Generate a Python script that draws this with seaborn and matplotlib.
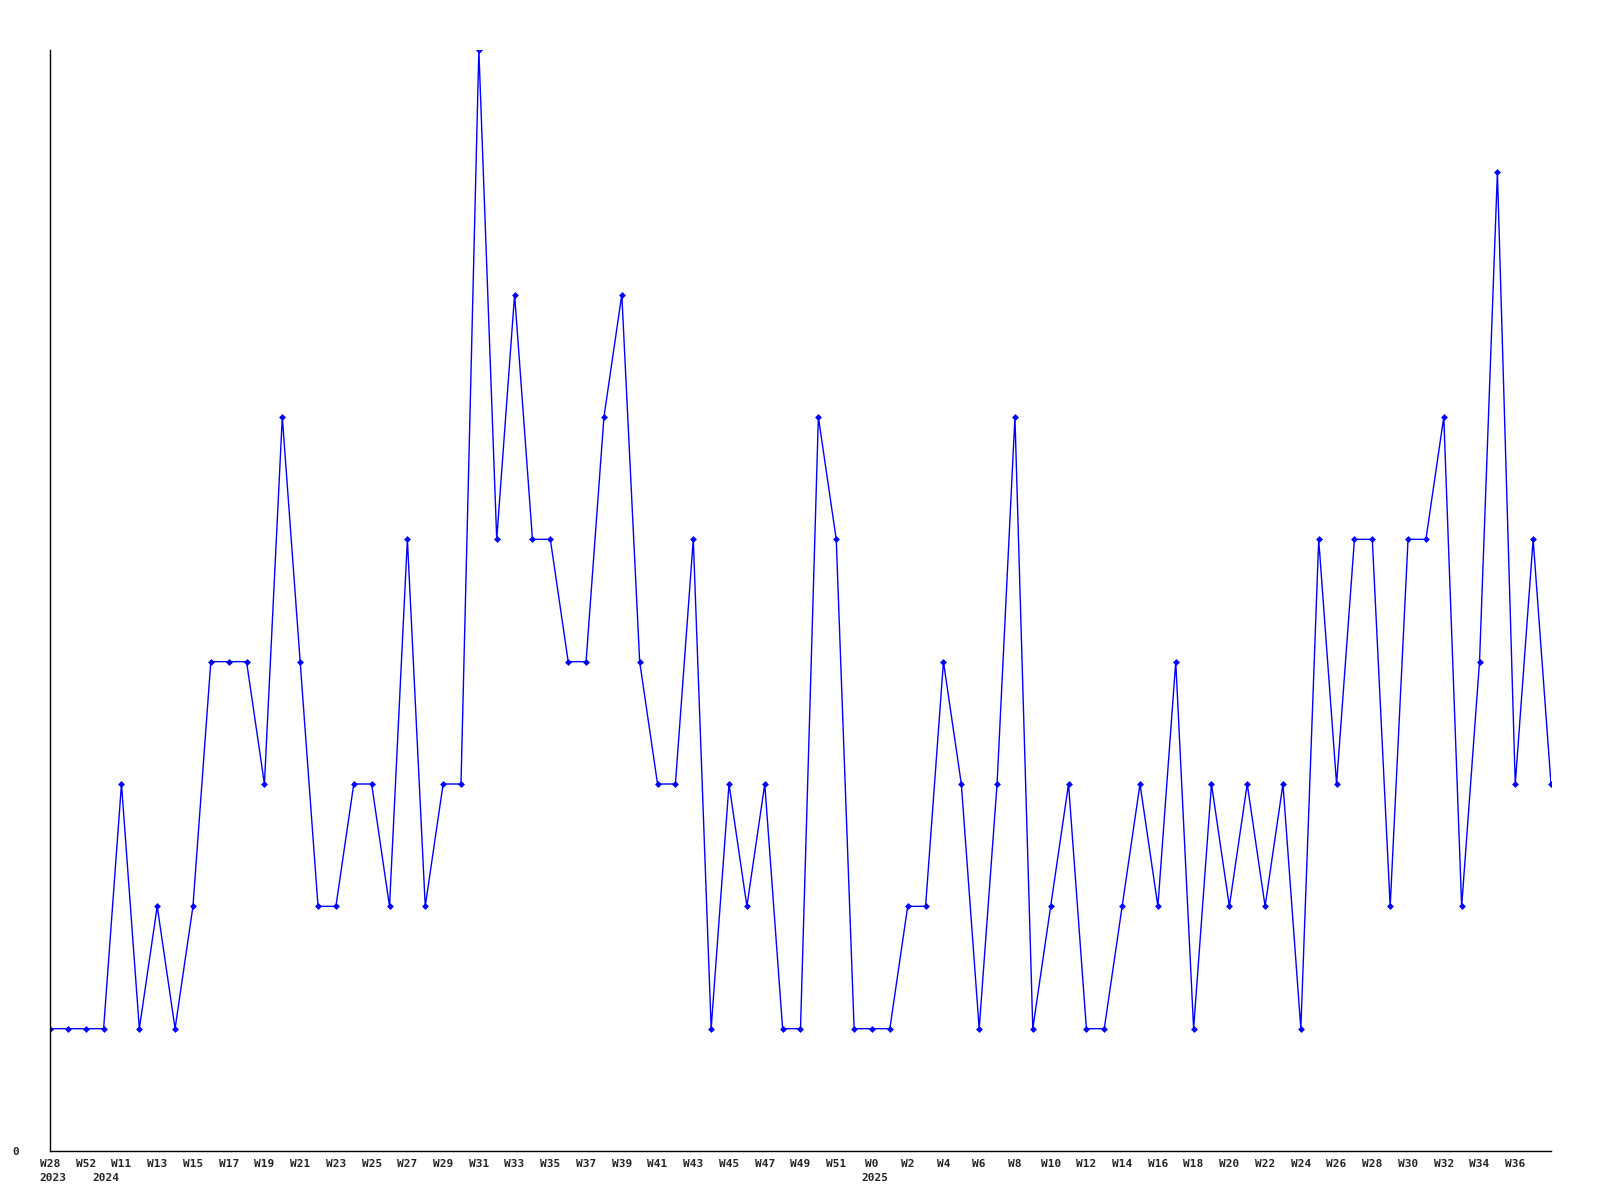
import numpy as np
import matplotlib
matplotlib.use("Agg")
import matplotlib.pyplot as plt
import seaborn as sns

# weekly counts, one value per week (W28 2023 .. W38 2025)
counts = [
    1, 1, 1, 1, 3, 1, 2, 1, 2, 4,
    4, 4, 3, 6, 4, 2, 2, 3, 3, 2,
    5, 2, 3, 3, 9, 5, 7, 5, 5, 4,
    4, 6, 7, 4, 3, 3, 5, 1, 3, 2,
    3, 1, 1, 6, 5, 1, 1, 1, 2, 2,
    4, 3, 1, 3, 6, 1, 2, 3, 1, 1,
    2, 3, 2, 4, 1, 3, 2, 3, 2, 3,
    1, 5, 3, 5, 5, 2, 5, 5, 6, 2,
    4, 8, 3, 5, 3,
]

# labels shown on every second week
week_labels = [
    "W28", "W52", "W11", "W13", "W15", "W17", "W19", "W21", "W23", "W25",
    "W27", "W29", "W31", "W33", "W35", "W37", "W39", "W41", "W43", "W45",
    "W47", "W49", "W51", "W0", "W2", "W4", "W6", "W8", "W10", "W12",
    "W14", "W16", "W18", "W20", "W22", "W24", "W26", "W28", "W30", "W32",
    "W34", "W36",
]
# year markers: week index where each year starts
years = ["2023", "2024", "2025"]
year_weeks = [0, 3, 46]


def main():
    sns.set_style("white")
    plt.rcParams["font.family"] = ["DejaVu Sans Mono"]

    fig = plt.figure(figsize=(16, 12), dpi=100)
    ax = fig.add_axes([50 / 1600, 1 - 1151 / 1200, 1501 / 1600, 1101 / 1200])

    x = np.arange(len(counts))
    sns.lineplot(x=x, y=counts, ax=ax, color="#0000ff", linewidth=1,
                 marker="D", markersize=3.5, markeredgewidth=0)

    ax.set_xlim(0, len(counts) - 1)
    ax.set_ylim(0, max(counts))

    ticks = x[::2][:len(week_labels)]
    ax.set_xticks(ticks)
    ax.set_xticklabels(week_labels, fontsize=8, fontweight="bold")
    ax.set_yticks([0])
    ax.set_yticklabels(["0"], fontsize=8, fontweight="bold")
    ax.tick_params(axis="x", length=0, pad=6)
    ax.tick_params(axis="y", length=0, pad=22)

    # year line under the week labels, left-aligned
    for yr, wk in zip(years, year_weeks):
        ax.annotate(yr, xy=(wk, 0), xycoords=ax.get_xaxis_transform(),
                    xytext=(-11, -27), textcoords="offset pixels",
                    ha="left", va="center", fontsize=8, fontweight="bold",
                    annotation_clip=False)

    for side in ["top", "right"]:
        ax.spines[side].set_visible(False)
    for side in ["left", "bottom"]:
        ax.spines[side].set_color("black")
        ax.spines[side].set_linewidth(1)

    ax.set_xlabel("")
    ax.set_ylabel("")
    fig.savefig("out.png", dpi=100, facecolor="white")


if __name__ == "__main__":
    main()
